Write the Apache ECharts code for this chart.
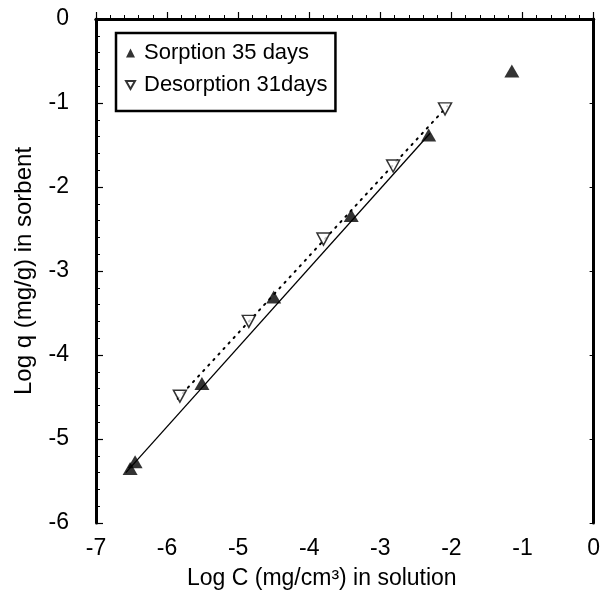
<!DOCTYPE html>
<html>
<head>
<meta charset="utf-8">
<script src="https://cdn.jsdelivr.net/npm/echarts@6/dist/echarts.min.js"></script>
<style>html,body{margin:0;padding:0;background:#fff}#c{width:603px;height:610px}</style>
</head>
<body>
<div id="c"></div>
<script>
// Data
const sorptionX = [-6.52, -6.45, -5.51, -4.50, -3.41, -2.32, -1.15];
const sorptionY = [-5.35, -5.27, -4.34, -3.31, -2.34, -1.38, -0.62];
const desorptionX = [-5.82, -4.85, -3.80, -2.82, -2.09];
const desorptionY = [-4.49, -3.60, -2.62, -1.75, -1.07];
const sorptionFitX = [-6.58, -2.30];
const sorptionFitY = [-5.40, -1.36];
const desorptionFitX = [-5.85, -2.06];
const desorptionFitY = [-4.52, -1.04];
const xTicks = [-7, -6, -5, -4, -3, -2, -1, 0];
const yTicks = [-6, -5, -4, -3, -2, -1, 0];

const zip = (a, b) => a.map((v, i) => [v, b[i]]);
const downTri = 'path://M0,0L10,0L5,9Z';
const font = '"Liberation Sans", Arial, sans-serif';

const chart = echarts.init(document.getElementById('c'));
chart.setOption({
  animation: false,
  backgroundColor: '#fff',
  textStyle: { fontFamily: font, color: '#000' },
  grid: { left: 96, right: 8, top: 19, bottom: 87, containLabel: false },
  legend: {
    left: 116, top: 33, orient: 'vertical',
    borderColor: '#000', borderWidth: 2.5,
    padding: [9, 8, 15, 9], itemGap: 10,
    itemWidth: 9, itemHeight: 9,
    textStyle: { fontSize: 22, color: '#000', fontFamily: font, padding: [0, 0, 0, 4] },
    data: [
      { name: 'Sorption 35 days', icon: 'triangle' },
      { name: 'Desorption 31days', icon: downTri }
    ]
  },
  xAxis: [{
    type: 'value', min: xTicks[0], max: xTicks[xTicks.length - 1], interval: 1,
    name: 'Log C (mg/cm³) in solution', nameLocation: 'middle', nameGap: 44,
    nameTextStyle: { fontSize: 23, color: '#000', fontFamily: font, padding: [0, 46, 0, 0] },
    axisLine: { lineStyle: { color: '#000', width: 3 } },
    axisTick: { inside: true, length: 7, lineStyle: { color: '#000', width: 1.2 } },
    minorTick: { show: true, splitNumber: 5, length: 4, lineStyle: { color: '#000', width: 1 } },
    axisLabel: { fontSize: 23, color: '#000', margin: 14, fontFamily: font },
    splitLine: { show: false }
  }, {
    type: 'value', position: 'top', min: xTicks[0], max: xTicks[xTicks.length - 1], interval: 1,
    axisLine: { onZero: false, lineStyle: { color: '#000', width: 3 } },
    axisTick: { show: false }, axisLabel: { show: false }, splitLine: { show: false }
  }],
  yAxis: [{
    type: 'value', min: yTicks[0], max: yTicks[yTicks.length - 1], interval: 1,
    name: 'Log q (mg/g) in sorbent', nameLocation: 'middle', nameGap: 60,
    nameTextStyle: { fontSize: 24, color: '#000', fontFamily: font },
    axisLine: { show: true, onZero: false, lineStyle: { color: '#000', width: 3 } },
    axisTick: { show: true, inside: true, length: 7, lineStyle: { color: '#000', width: 1.2 } },
    minorTick: { show: true, splitNumber: 5, length: 4, lineStyle: { color: '#000', width: 1 } },
    axisLabel: { fontSize: 23, color: '#000', margin: 27, fontFamily: font },
    splitLine: { show: false }
  }, {
    type: 'value', position: 'right', min: yTicks[0], max: yTicks[yTicks.length - 1], interval: 1,
    axisLine: { show: true, onZero: false, lineStyle: { color: '#000', width: 3 } },
    axisTick: { show: true, inside: true, length: 4, lineStyle: { color: '#000', width: 1 } },
    axisLabel: { show: false }, splitLine: { show: false }
  }],
  series: [
    {
      name: 'sorption fit', type: 'line', data: zip(sorptionFitX, sorptionFitY),
      showSymbol: false, silent: true, z: 1,
      lineStyle: { color: '#000', width: 1.3, type: 'solid' }
    },
    {
      name: 'desorption fit', type: 'line', data: zip(desorptionFitX, desorptionFitY),
      showSymbol: false, silent: true, z: 1,
      lineStyle: { color: '#000', width: 2, type: [1.5, 6], cap: 'round' }
    },
    {
      name: 'Sorption 35 days', type: 'scatter', data: zip(sorptionX, sorptionY),
      symbol: 'triangle', symbolSize: [15, 13], z: 3,
      itemStyle: { color: '#000' }
    },
    {
      name: 'Desorption 31days', type: 'scatter', data: zip(desorptionX, desorptionY),
      symbol: downTri, symbolSize: [13, 12], z: 4,
      itemStyle: { color: '#fff', borderColor: '#000', borderWidth: 1.5 }
    }
  ]
});
</script>
</body>
</html>
